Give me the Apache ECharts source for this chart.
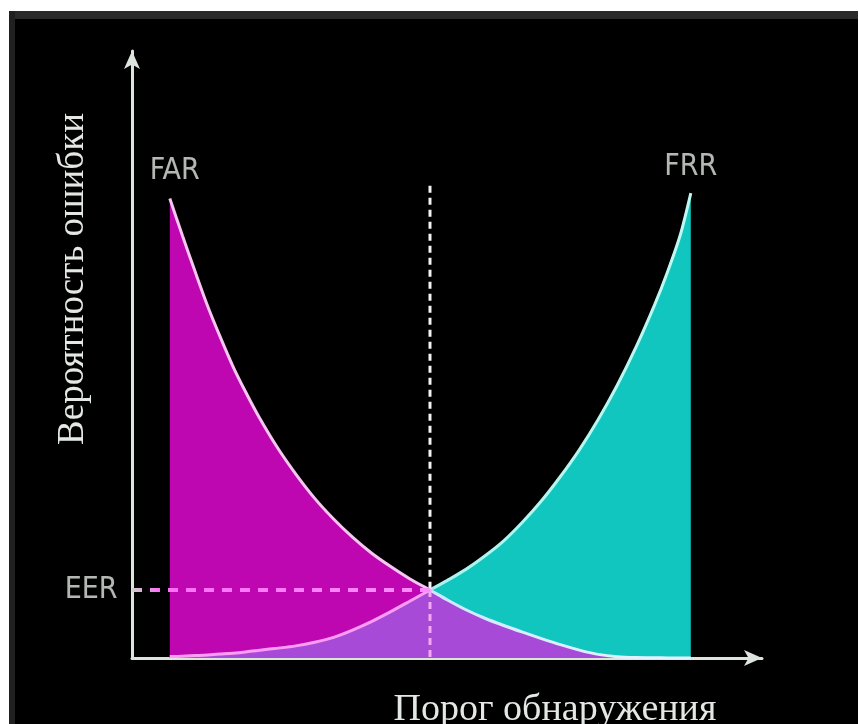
<!DOCTYPE html>
<html>
<head>
<meta charset="utf-8">
<script src="https://cdn.jsdelivr.net/npm/echarts@6/dist/echarts.min.js"></script>
<style>
html,body{margin:0;padding:0;background:#fff;}
#chart{width:859px;height:724px;}
</style>
</head>
<body>
<div id="chart"></div>
<script>
// Threshold positions (arbitrary units 0..100 along the x axis)
const thresholds = [6, 8, 10, 12, 14, 16, 18, 20, 23, 26, 29, 32, 35, 38, 41, 44, 47.3, 50, 53, 56, 59, 62, 65, 68, 71, 74, 77, 80, 83, 85, 87, 88.7];
// FAR – false acceptance rate
const farValues = [75.7, 69.6, 63.7, 58.0, 52.9, 48.1, 43.9, 40.0, 34.8, 30.3, 26.3, 22.9, 19.9, 17.3, 15.1, 13.1, 11.2, 9.6, 7.95, 6.55, 5.35, 4.25, 3.2, 2.2, 1.3, 0.6, 0.22, 0.08, 0.04, 0.02, 0.01, 0];
// FRR – false rejection rate
const frrValues = [0.25, 0.3, 0.4, 0.5, 0.65, 0.8, 1.0, 1.25, 1.6, 2.0, 2.6, 3.4, 4.6, 6.0, 7.6, 9.3, 11.2, 12.75, 14.6, 16.8, 19.3, 22.4, 25.9, 29.9, 34.3, 39.3, 44.9, 51.2, 58.3, 63.6, 69.6, 76.6];
// Equal error rate point
const eerX = 47.3;
const eerY = 11.2;
const thresholdLineTop = 77.8;
// Texts
const curveLabels = ['FAR', 'FRR', 'EER'];
const xAxisTitle = 'Порог обнаружения';
const yAxisTitle = 'Вероятность ошибки';

const farData = thresholds.map((x, i) => [x, farValues[i]]);
const frrData = thresholds.map((x, i) => [x, frrValues[i]]);
const overlapData = thresholds.map((x, i) => [x, Math.min(farValues[i], frrValues[i])]);

const chart = echarts.init(document.getElementById('chart'));
const axisColor = '#dde4dd';
const labelFont = '"DejaVu Sans Condensed", "Liberation Sans Narrow", sans-serif';
const serifFont = '"Liberation Serif", "DejaVu Serif", serif';
const lbl = (text, pos, dist, offset) => ({
  show: true, formatter: text, position: pos, distance: dist, offset: offset,
  color: '#e0e6e0', fontFamily: labelFont, fontSize: 30
});
const grad = (stops) => new echarts.graphic.LinearGradient(0, 0, 1, 0, stops.map(s => ({offset: s[0], color: s[1]})));
const smoothness = 0.3;

chart.setOption({
  backgroundColor: '#ffffff',
  animation: false,
  grid: {left: 132, right: 97, top: 51, bottom: 66},
  xAxis: {
    type: 'value', min: 0, max: 100,
    axisLine: {show: true, symbol: ['none', 'arrow'], symbolSize: [12, 18], lineStyle: {color: axisColor, width: 3}},
    axisTick: {show: false}, axisLabel: {show: false}, splitLine: {show: false}
  },
  yAxis: {
    type: 'value', min: 0, max: 100,
    axisLine: {show: true, symbol: ['none', 'arrow'], symbolSize: [12, 18], lineStyle: {color: axisColor, width: 3}},
    axisTick: {show: false}, axisLabel: {show: false}, splitLine: {show: false}
  },
  graphic: [
    {type: 'rect', z: -10, shape: {x: 9, y: 11, width: 849, height: 713}, style: {fill: '#000000'}},
    {type: 'rect', z: -9, shape: {x: 9, y: 11, width: 849, height: 8}, style: {fill: '#2a2a2a'}},
    {type: 'rect', z: -9, shape: {x: 9, y: 11, width: 6, height: 713}, style: {fill: '#202020'}},
    {type: 'text', z: 1, x: 555, y: 710, style: {text: xAxisTitle, fill: '#e4e8e4', font: '38px ' + serifFont, textAlign: 'center', textVerticalAlign: 'middle'}},
    {type: 'text', z: 1, x: 73, y: 279, rotation: Math.PI / 2, style: {text: yAxisTitle, fill: '#e4e8e4', font: '37px ' + serifFont, textAlign: 'center', textVerticalAlign: 'middle'}}
  ],
  series: [
    {type: 'line', data: farData, smooth: smoothness, symbol: 'none', lineStyle: {width: 0}, areaStyle: {color: '#be07b1', opacity: 1}, z: 2},
    {type: 'line', data: frrData, smooth: smoothness, symbol: 'none', lineStyle: {width: 0}, areaStyle: {color: '#11c6bf', opacity: 1}, z: 2},
    {type: 'line', data: overlapData, smooth: smoothness, symbol: 'none', lineStyle: {width: 0}, areaStyle: {color: '#a84ad8', opacity: 1}, z: 3},
    {type: 'line', data: farData, smooth: smoothness, symbol: 'none', z: 5,
      lineStyle: {width: 3, color: grad([[0, '#f6c6f0'], [0.49, '#f6c6f0'], [0.51, '#cfe8ff'], [1, '#e8f4ff']])}},
    {type: 'line', data: frrData, smooth: smoothness, symbol: 'none', z: 5,
      lineStyle: {width: 3, color: grad([[0, '#ff9cf4'], [0.49, '#ff9cf4'], [0.51, '#a8f4ee'], [1, '#bff8f2']])}},
    {type: 'line', data: [[eerX, thresholdLineTop], [eerX, eerY]], symbol: 'none', z: 6,
      lineStyle: {width: 3, color: '#f2f2f2', type: [7, 5]}},
    {type: 'line', data: [[eerX, eerY], [eerX, 0]], symbol: 'none', z: 6,
      lineStyle: {width: 3, color: '#f4a8f4', type: [7, 5]}},
    {type: 'line', data: [[0, eerY], [eerX, eerY]], symbol: 'none', z: 6,
      lineStyle: {width: 4, color: grad([[0, '#c8d8c8'], [0.1, '#ff6ef8'], [1, '#ff8cff']]), type: [10, 8]}},
    {type: 'scatter', symbolSize: 1, itemStyle: {color: 'rgba(0,0,0,0)'}, z: 7,
      data: [
        {value: [thresholds[0], farValues[0]], label: lbl(curveLabels[0], 'top', 12, [5, 0])},
        {value: [thresholds[thresholds.length - 1], frrValues[frrValues.length - 1]], label: lbl(curveLabels[1], 'top', 10, [0, 0])},
        {value: [0, eerY], label: lbl(curveLabels[2], 'left', 14, [0, 0])}
      ]}
  ]
});
</script>
</body>
</html>
